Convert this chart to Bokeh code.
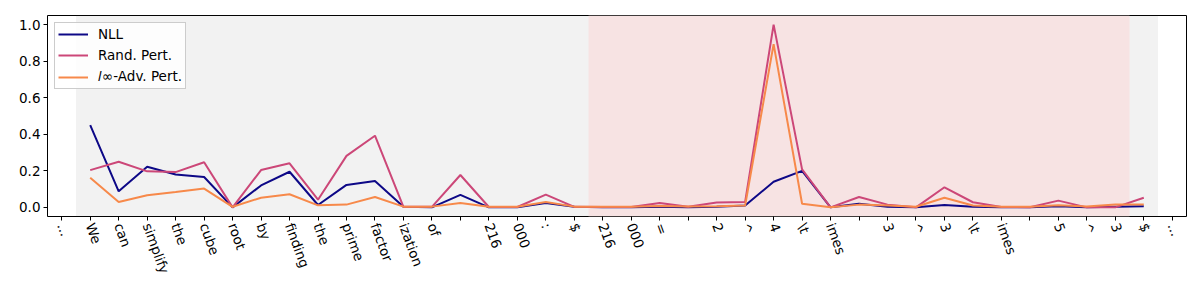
from bokeh.plotting import figure
from bokeh.models import (FixedTicker, BoxAnnotation, Legend, LegendItem,
                          Range1d, NumeralTickFormatter)
from bokeh.embed import file_html
from bokeh.resources import INLINE
import math

tokens = ["...", "We", "can", "simplify", "the", "cube", "root", "by", "finding",
          "the", "prime", "factor", "ization", "of", " ", "216", "000", ":", "$",
          "216", "000", "=", " ", "2", "^", "4", "\\t", "imes", " ", "3", "^",
          "3", "\\t", "imes", " ", "5", "^", "3", "$", "..."]

token_idx = list(range(1, 39))

nll = [0.45, 0.088, 0.222, 0.18, 0.166, 0.0, 0.12, 0.195, 0.013, 0.123,
       0.144, 0.003, 0.0, 0.068, 0.0, 0.0, 0.024, 0.003, 0.001, 0.0,
       0.003, 0.0, 0.003, 0.01, 0.14, 0.2, 0.0, 0.02, 0.004, 0.0,
       0.013, 0.004, 0.0, 0.0, 0.006, 0.0, 0.004, 0.006]

rand_pert = [0.204, 0.25, 0.197, 0.193, 0.247, 0.0, 0.204, 0.241, 0.042, 0.282,
             0.392, 0.003, 0.003, 0.177, 0.002, 0.002, 0.07, 0.003, 0.002, 0.002,
             0.024, 0.003, 0.026, 0.03, 1.0, 0.208, 0.0, 0.057, 0.015, 0.0,
             0.11, 0.028, 0.002, 0.001, 0.037, 0.0, 0.0, 0.053]

adv_pert = [0.162, 0.029, 0.066, 0.084, 0.103, 0.003, 0.053, 0.072, 0.011, 0.015,
            0.057, 0.004, 0.004, 0.024, 0.003, 0.003, 0.029, 0.004, 0.003, 0.003,
            0.008, 0.005, 0.006, 0.01, 0.893, 0.02, 0.001, 0.015, 0.01, 0.003,
            0.053, 0.01, 0.003, 0.003, 0.012, 0.005, 0.015, 0.015]

series_names = ["NLL", "Rand. Pert.", "\U0001D459\u221E-Adv. Pert."]
series_colors = ["#0d0887", "#cc4778", "#f7894a"]

context_span = (0.5, 38.5)
answer_span = (18.5, 37.5)

FONT = "DejaVu Sans"
FS = "13.5px"

p = figure(width=1200, height=300, output_backend="svg", toolbar_location=None,
           x_range=Range1d(-0.5, 39.5), y_range=Range1d(-0.05, 1.05),
           min_border_left=47, min_border_right=14, min_border_top=15,
           min_border_bottom=84)
p.background_fill_color = "white"
p.border_fill_color = "white"
p.outline_line_color = "black"
p.outline_line_alpha = 1.0
p.outline_line_width = 1
p.grid.visible = False

p.add_layout(BoxAnnotation(left=context_span[0], right=context_span[1],
                           fill_color="gray", fill_alpha=0.1, line_alpha=0,
                           level="underlay"))
p.add_layout(BoxAnnotation(left=answer_span[0], right=answer_span[1],
                           fill_color="#f7e3e3", fill_alpha=1.0, line_alpha=0,
                           level="underlay"))

renderers = []
for vals, col in zip([nll, rand_pert, adv_pert], series_colors):
    r = p.line(token_idx, vals, line_color=col, line_width=2)
    renderers.append(r)

legend = Legend(items=[LegendItem(label=n, renderers=[r])
                       for n, r in zip(series_names, renderers)],
                location="top_left")
legend.margin = 7
legend.padding = 3
legend.spacing = 5
legend.glyph_width = 30
legend.glyph_height = 16
legend.label_standoff = 10
legend.label_text_font = FONT
legend.label_text_font_size = FS
legend.label_text_color = "black"
legend.border_line_color = "#cccccc"
legend.border_line_alpha = 1.0
legend.background_fill_alpha = 0.8
p.add_layout(legend)

xa = p.xaxis[0]
xa.ticker = FixedTicker(ticks=list(range(len(tokens))))
xa.major_label_overrides = {i: t for i, t in enumerate(tokens)}
xa.major_label_orientation = -70 * math.pi / 180
xa.minor_tick_line_color = None
xa.major_tick_out = 4
xa.major_tick_in = 0
xa.major_label_standoff = 3
xa.axis_line_color = None
xa.major_tick_line_color = "black"
xa.major_label_text_font = FONT
xa.major_label_text_font_size = FS
xa.major_label_text_color = "black"

ya = p.yaxis[0]
ya.ticker = FixedTicker(ticks=[0.0, 0.2, 0.4, 0.6, 0.8, 1.0])
ya.formatter = NumeralTickFormatter(format="0.0")
ya.minor_tick_line_color = None
ya.major_tick_out = 4
ya.major_tick_in = 0
ya.major_label_standoff = 3
ya.axis_line_color = None
ya.major_tick_line_color = "black"
ya.major_label_text_font = FONT
ya.major_label_text_font_size = FS
ya.major_label_text_color = "black"

open("out.html", "w").write(file_html(p, INLINE))
